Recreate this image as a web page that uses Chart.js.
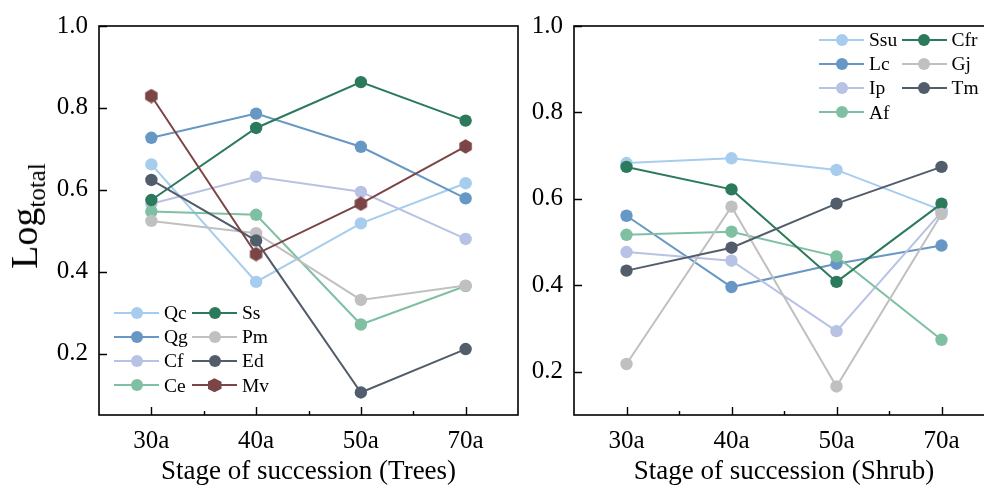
<!DOCTYPE html>
<html>
<head>
<meta charset="utf-8">
<script src="https://cdn.jsdelivr.net/npm/chart.js@4"></script>
<style>
html,body{margin:0;padding:0;background:#fff;overflow:hidden;width:984px;height:488px;position:relative;}
#wrapL{position:absolute;left:0;top:0;width:530px;height:488px;}
#wrapR{position:absolute;left:530px;top:0;width:474px;height:488px;}
.ytitle{position:absolute;left:27px;top:216px;font-family:'Liberation Serif','Times New Roman',serif;color:#000;white-space:nowrap;transform:translate(-50%,-50%) rotate(-90deg);font-size:38px;line-height:1;}
.ytitle sub{font-size:25px;vertical-align:-0.32em;line-height:1;}
.legend{position:absolute;display:grid;grid-auto-flow:column;grid-template-rows:repeat(4,24.1px);font-family:'Liberation Serif','Times New Roman',serif;font-size:19.5px;color:#000;}
.item{display:flex;align-items:center;height:24.1px;}
.mk{position:relative;width:45px;height:14px;flex:none;}
.mk .ln{position:absolute;left:0;right:0;top:6px;height:2px;}
.mk .dt{position:absolute;left:16.5px;top:1px;width:12px;height:12px;border-radius:50%;}
.mk .hx{position:absolute;left:15.5px;top:0px;width:14px;height:14px;clip-path:polygon(50% 0,100% 25%,100% 75%,50% 100%,0 75%,0 25%);}
.item span.t{margin-left:5px;line-height:1;}
</style>
</head>
<body>
<div id="wrapL"><canvas id="cL" width="530" height="488"></canvas></div>
<div id="wrapR"><canvas id="cR" width="474" height="488"></canvas></div>
<div class="ytitle">Log<sub>total</sub></div>
<div class="legend" id="legL" style="left:114px;top:301px;grid-template-columns:78px auto;"></div>
<div class="legend" id="legR" style="left:819px;top:28px;grid-template-columns:82.5px auto;"></div>
<script>
// ---------- DATA ----------
const stages = ['30a', '40a', '50a', '70a'];
const yTickValues = [0.2, 0.4, 0.6, 0.8, 1.0];

// Trees panel
const treeNames = ['Qc', 'Qg', 'Cf', 'Ce', 'Ss', 'Pm', 'Ed', 'Mv'];
const Qc = [0.662, 0.375, 0.518, 0.616];
const Qg = [0.727, 0.786, 0.705, 0.579];
const Cf = [0.566, 0.632, 0.595, 0.480];
const Ce = [0.547, 0.539, 0.271, 0.365];
const Ss = [0.575, 0.751, 0.863, 0.769];
const Pm = [0.524, 0.494, 0.331, 0.366];
const Ed = [0.624, 0.476, 0.105, 0.211];
const Mv = [0.829, 0.443, 0.566, 0.706];
const treeValues = [Qc, Qg, Cf, Ce, Ss, Pm, Ed, Mv];

// Shrub panel
const shrubNames = ['Ssu', 'Lc', 'Ip', 'Af', 'Cfr', 'Gj', 'Tm'];
const Ssu = [0.683, 0.694, 0.667, 0.574];
const Lc  = [0.561, 0.396, 0.450, 0.492];
const Ip  = [0.477, 0.457, 0.294, 0.570];
const Af  = [0.517, 0.524, 0.467, 0.274];
const Cfr = [0.674, 0.622, 0.408, 0.589];
const Gj  = [0.218, 0.582, 0.166, 0.565];
const Tm  = [0.434, 0.487, 0.589, 0.674];
const shrubValues = [Ssu, Lc, Ip, Af, Cfr, Gj, Tm];

// ---------- STYLE ----------
const FONT = "'Liberation Serif','Times New Roman',serif";
const palette = ['#a6cdee', '#6797c4', '#b7c2e5', '#7fc0a2', '#2c7a5c', '#c0c0c0', '#525d6c', '#7b4546'];
const treeMarkers = ['circle','circle','circle','circle','circle','circle','circle','hex'];
const shrubMarkers = ['circle','circle','circle','circle','circle','circle','circle'];

function hexImage(color){
  const c = document.createElement('canvas');
  c.width = 15; c.height = 15;
  const g = c.getContext('2d');
  g.fillStyle = color;
  g.beginPath();
  for (let k = 0; k < 6; k++){
    const a = -Math.PI/2 + k*Math.PI/3;
    const px = 7.5 + 7.2*Math.cos(a), py = 7.5 + 7.2*Math.sin(a);
    if (k === 0) g.moveTo(px, py); else g.lineTo(px, py);
  }
  g.closePath(); g.fill();
  return c;
}

const framePlugin = {
  id: 'frame',
  afterDraw(chart){
    const {ctx, chartArea: a, scales: {x, y}} = chart;
    ctx.save();
    ctx.strokeStyle = '#000';
    ctx.lineWidth = 1.6;
    ctx.strokeRect(a.left, a.top, a.right - a.left, a.bottom - a.top);
    ctx.beginPath();
    y.ticks.forEach(t => {
      const py = Math.round(y.getPixelForValue(t.value)) + 0.5;
      ctx.moveTo(a.left, py); ctx.lineTo(a.left + 8, py);
    });
    stages.forEach((s, i) => {
      const px = Math.round(x.getPixelForValue(i)) + 0.5;
      ctx.moveTo(px, a.bottom); ctx.lineTo(px, a.bottom - 8);
    });
    for (let i = 0; i < stages.length - 1; i++){
      const px = Math.round((x.getPixelForValue(i) + x.getPixelForValue(i + 1)) / 2) + 0.5;
      ctx.moveTo(px, a.bottom); ctx.lineTo(px, a.bottom - 4);
    }
    ctx.lineWidth = 1.4;
    ctx.stroke();
    ctx.restore();
  }
};

function makeChart(id, names, values, markers, yMin, xTitle, yW, padRight){
  const n = names.length;
  const datasets = names.map((nm, i) => ({
    label: nm,
    data: values[i],
    borderColor: palette[i],
    backgroundColor: palette[i],
    pointBackgroundColor: palette[i],
    pointBorderColor: palette[i],
    pointBorderWidth: 0,
    pointRadius: 6.2,
    pointHoverRadius: 6.2,
    pointStyle: markers[i] === 'hex' ? hexImage(palette[i]) : 'circle',
    borderWidth: 2,
    tension: 0,
    order: n - i
  }));
  return new Chart(document.getElementById(id), {
    type: 'line',
    data: { labels: stages, datasets },
    options: {
      responsive: false,
      animation: false,
      layout: { padding: { left: 0, top: 24, right: padRight, bottom: 0 } },
      plugins: { legend: { display: false }, tooltip: { enabled: false } },
      scales: {
        x: {
          type: 'category',
          offset: true,
          grid: { display: false, drawTicks: false },
          border: { display: false },
          ticks: { padding: 11, color: '#000', font: { family: FONT, size: 25 } },
          title: { display: true, text: xTitle, color: '#000', font: { family: FONT, size: 27 }, padding: { top: 0, bottom: 0 } },
          afterFit: s => { s.height = 73; }
        },
        y: {
          type: 'linear',
          min: yMin,
          max: 1.0,
          grid: { display: false, drawTicks: false },
          border: { display: false },
          afterBuildTicks: s => { s.ticks = yTickValues.map(v => ({ value: v })); },
          afterFit: s => { s.width = yW; },
          ticks: { padding: 11, color: '#000', font: { family: FONT, size: 25 }, callback: v => Number(v).toFixed(1) }
        }
      }
    },
    plugins: [framePlugin]
  });
}

makeChart('cL', treeNames, treeValues, treeMarkers, 0.05, 'Stage of succession (Trees)', 99, 12);
makeChart('cR', shrubNames, shrubValues, shrubMarkers, 0.10, 'Stage of succession (Shrub)', 44, 10);

function buildLegend(elId, names, markers){
  const el = document.getElementById(elId);
  names.forEach((nm, i) => {
    const it = document.createElement('div');
    it.className = 'item';
    const mk = document.createElement('div');
    mk.className = 'mk';
    const ln = document.createElement('div');
    ln.className = 'ln'; ln.style.background = palette[i];
    const dt = document.createElement('div');
    dt.className = markers[i] === 'hex' ? 'hx' : 'dt';
    dt.style.background = palette[i];
    mk.appendChild(ln); mk.appendChild(dt);
    const t = document.createElement('span');
    t.className = 't'; t.textContent = nm;
    it.appendChild(mk); it.appendChild(t);
    el.appendChild(it);
  });
}
buildLegend('legL', treeNames, treeMarkers);
buildLegend('legR', shrubNames, shrubMarkers);
</script>
</body>
</html>
